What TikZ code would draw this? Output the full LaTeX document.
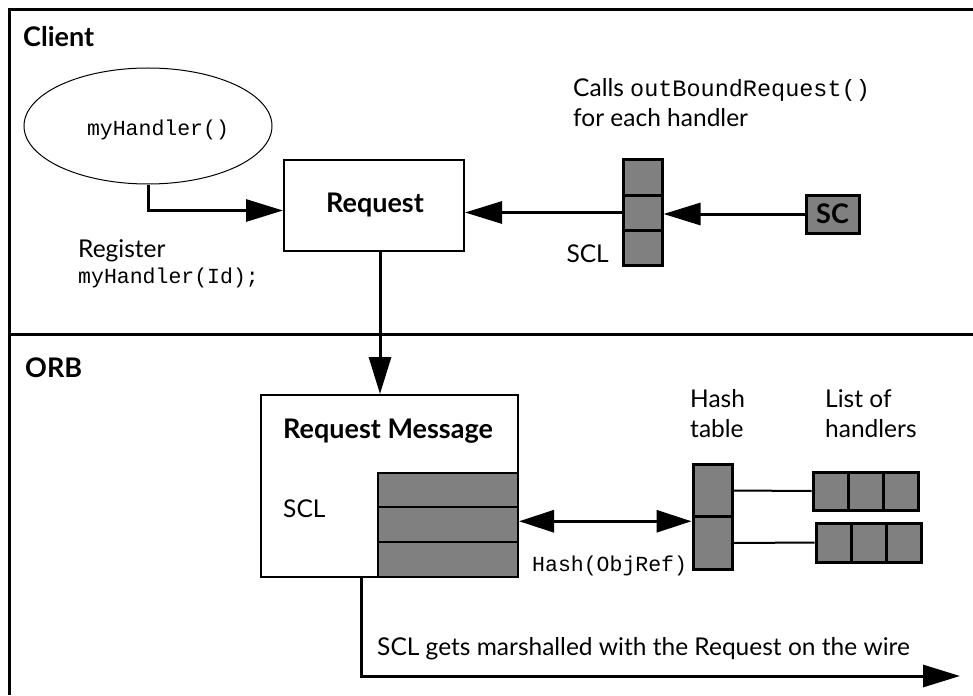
\documentclass[tikz,border=0pt]{standalone}
\usepackage{fontspec}
\setmainfont{Lato}
\setmonofont{Liberation Mono}
\usetikzlibrary{arrows.meta,shapes.geometric}
\definecolor{cellgray}{HTML}{808080}
\begin{document}
\begin{tikzpicture}[x=1pt,y=-1pt,
  frame/.style={line width=3pt},
  cell/.style={draw,fill=cellgray,line width=3pt,inner sep=0pt},
  tcell/.style={draw,fill=cellgray,line width=2pt,inner sep=0pt,minimum width=140pt,minimum height=34.7pt},
  wbox/.style={draw,fill=white,line width=2pt,inner sep=0pt},
  arr/.style={line width=3pt,-{Triangle[length=37pt,width=22pt]}},
  darr/.style={line width=3pt,{Triangle[length=35pt,width=22pt]}-{Triangle[length=35pt,width=22pt]}},
  link/.style={line width=2pt},
  lbl/.style={font=\fontsize{24.5}{28}\selectfont,inner sep=0pt,anchor=base west},
  blbl/.style={font=\bfseries\fontsize{27}{30}\selectfont,inner sep=0pt,anchor=base west},
  mono/.style={font=\ttfamily\fontsize{21.5}{24}\selectfont,inner sep=0pt,anchor=base west}
]
\useasboundingbox (0,0) rectangle (973,695);
% frame
\draw[frame] (9.5,695) -- (9.5,9.5) -- (973,9.5);
\draw[frame] (9.5,334.5) -- (973,334.5);
\node[blbl] (client) at (23,47) {Client};
\node[blbl] (orb) at (25,377) {ORB};

% client part
\node[draw,ellipse,line width=1pt,inner sep=0pt,minimum width=248pt,minimum height=116pt] (ell) at (148,126) {};
\node[mono,anchor=center] (ellt) at (158,130) {myHandler()};
\node[wbox,minimum width=180pt,minimum height=91pt] (req) at (374,205.5) {};
\node[font=\bfseries\fontsize{27}{30}\selectfont,inner sep=0pt] (reqt) at (375,205.5) {Request};
\node[lbl] (reg) at (78,257) {Register};
\node[mono] (regid) at (78,283) {myHandler(Id);};

\node[cell,minimum width=39pt,minimum height=35pt] (scl1) at (642.5,177.5) {};
\node[cell,minimum width=39pt,minimum height=35pt] (scl2) at (642.5,212.5) {};
\node[cell,minimum width=39pt,minimum height=35pt] (scl3) at (642.5,247.5) {};
\node[lbl,anchor=base east] (scllbl) at (609,262) {SCL};
\node[cell,minimum width=53pt,minimum height=38pt,font=\bfseries\fontsize{27}{30}\selectfont] (sc) at (832.5,214) {SC};
\node[lbl] (calls) at (573,97) {Calls \texttt{\fontsize{23.5}{26}\selectfont outBoundRequest()}};
\node[lbl] (foreach) at (573,127) {for each handler};

\draw[arr] (ell.south) |- ([yshift=-5pt]req.west);
\draw[arr] (scl2.west) -- (scl2.west -| req.east);
\draw[arr] (sc.west) -- (sc.west -| scl2.east);

% ORB part
\node[wbox,minimum width=257pt,minimum height=182pt] (msg) at (389.5,486) {};
\node[blbl] (msgt) at (283,438) {Request Message};
\node[lbl] (msgscl) at (283,517) {SCL};
\node[tcell] (t1) at (448,490) {};
\node[tcell] (t2) at (448,524.7) {};
\node[tcell] (t3) at (448,559.4) {};
\draw[arr] ([xshift=6pt]req.south) -- ([xshift=6pt]req.south |- msg.north);

\node[cell,minimum width=39pt,minimum height=52.5pt] (h1) at (712.5,490.5) {};
\node[cell,minimum width=39pt,minimum height=52.5pt] (h2) at (712.5,543) {};
\node[lbl] (hash1) at (690,407) {Hash};
\node[lbl] (hash2) at (690,437) {table};
\node[lbl] (list1) at (825,407) {List of};
\node[lbl] (list2) at (825,437) {handlers};
\node[mono] (hobj) at (532,571) {Hash(ObjRef)};

\node[cell,minimum width=35.3pt,minimum height=38pt] (a1) at (830.7,491) {};
\node[cell,minimum width=35.3pt,minimum height=38pt] (a2) at (866,491) {};
\node[cell,minimum width=35.3pt,minimum height=38pt] (a3) at (901.3,491) {};
\node[cell,minimum width=35pt,minimum height=39pt] (b1) at (833.5,542.5) {};
\node[cell,minimum width=35pt,minimum height=39pt] (b2) at (868.5,542.5) {};
\node[cell,minimum width=35pt,minimum height=39pt] (b3) at (903.5,542.5) {};

\draw[darr] ([yshift=-3pt]t2.east |- h1.south) -- ([yshift=-3pt]h1.south west);
\draw[link] (h1.east) -- (a1.west);
\draw[link] (h2.east) -- (b1.west);

\coordinate (wire) at (960,676);
\draw[arr] ([xshift=-28.5pt]msg.south) |- (wire);
\node[lbl] (wiret) at (377,655) {SCL gets marshalled with the Request on the wire};
\end{tikzpicture}
\end{document}
